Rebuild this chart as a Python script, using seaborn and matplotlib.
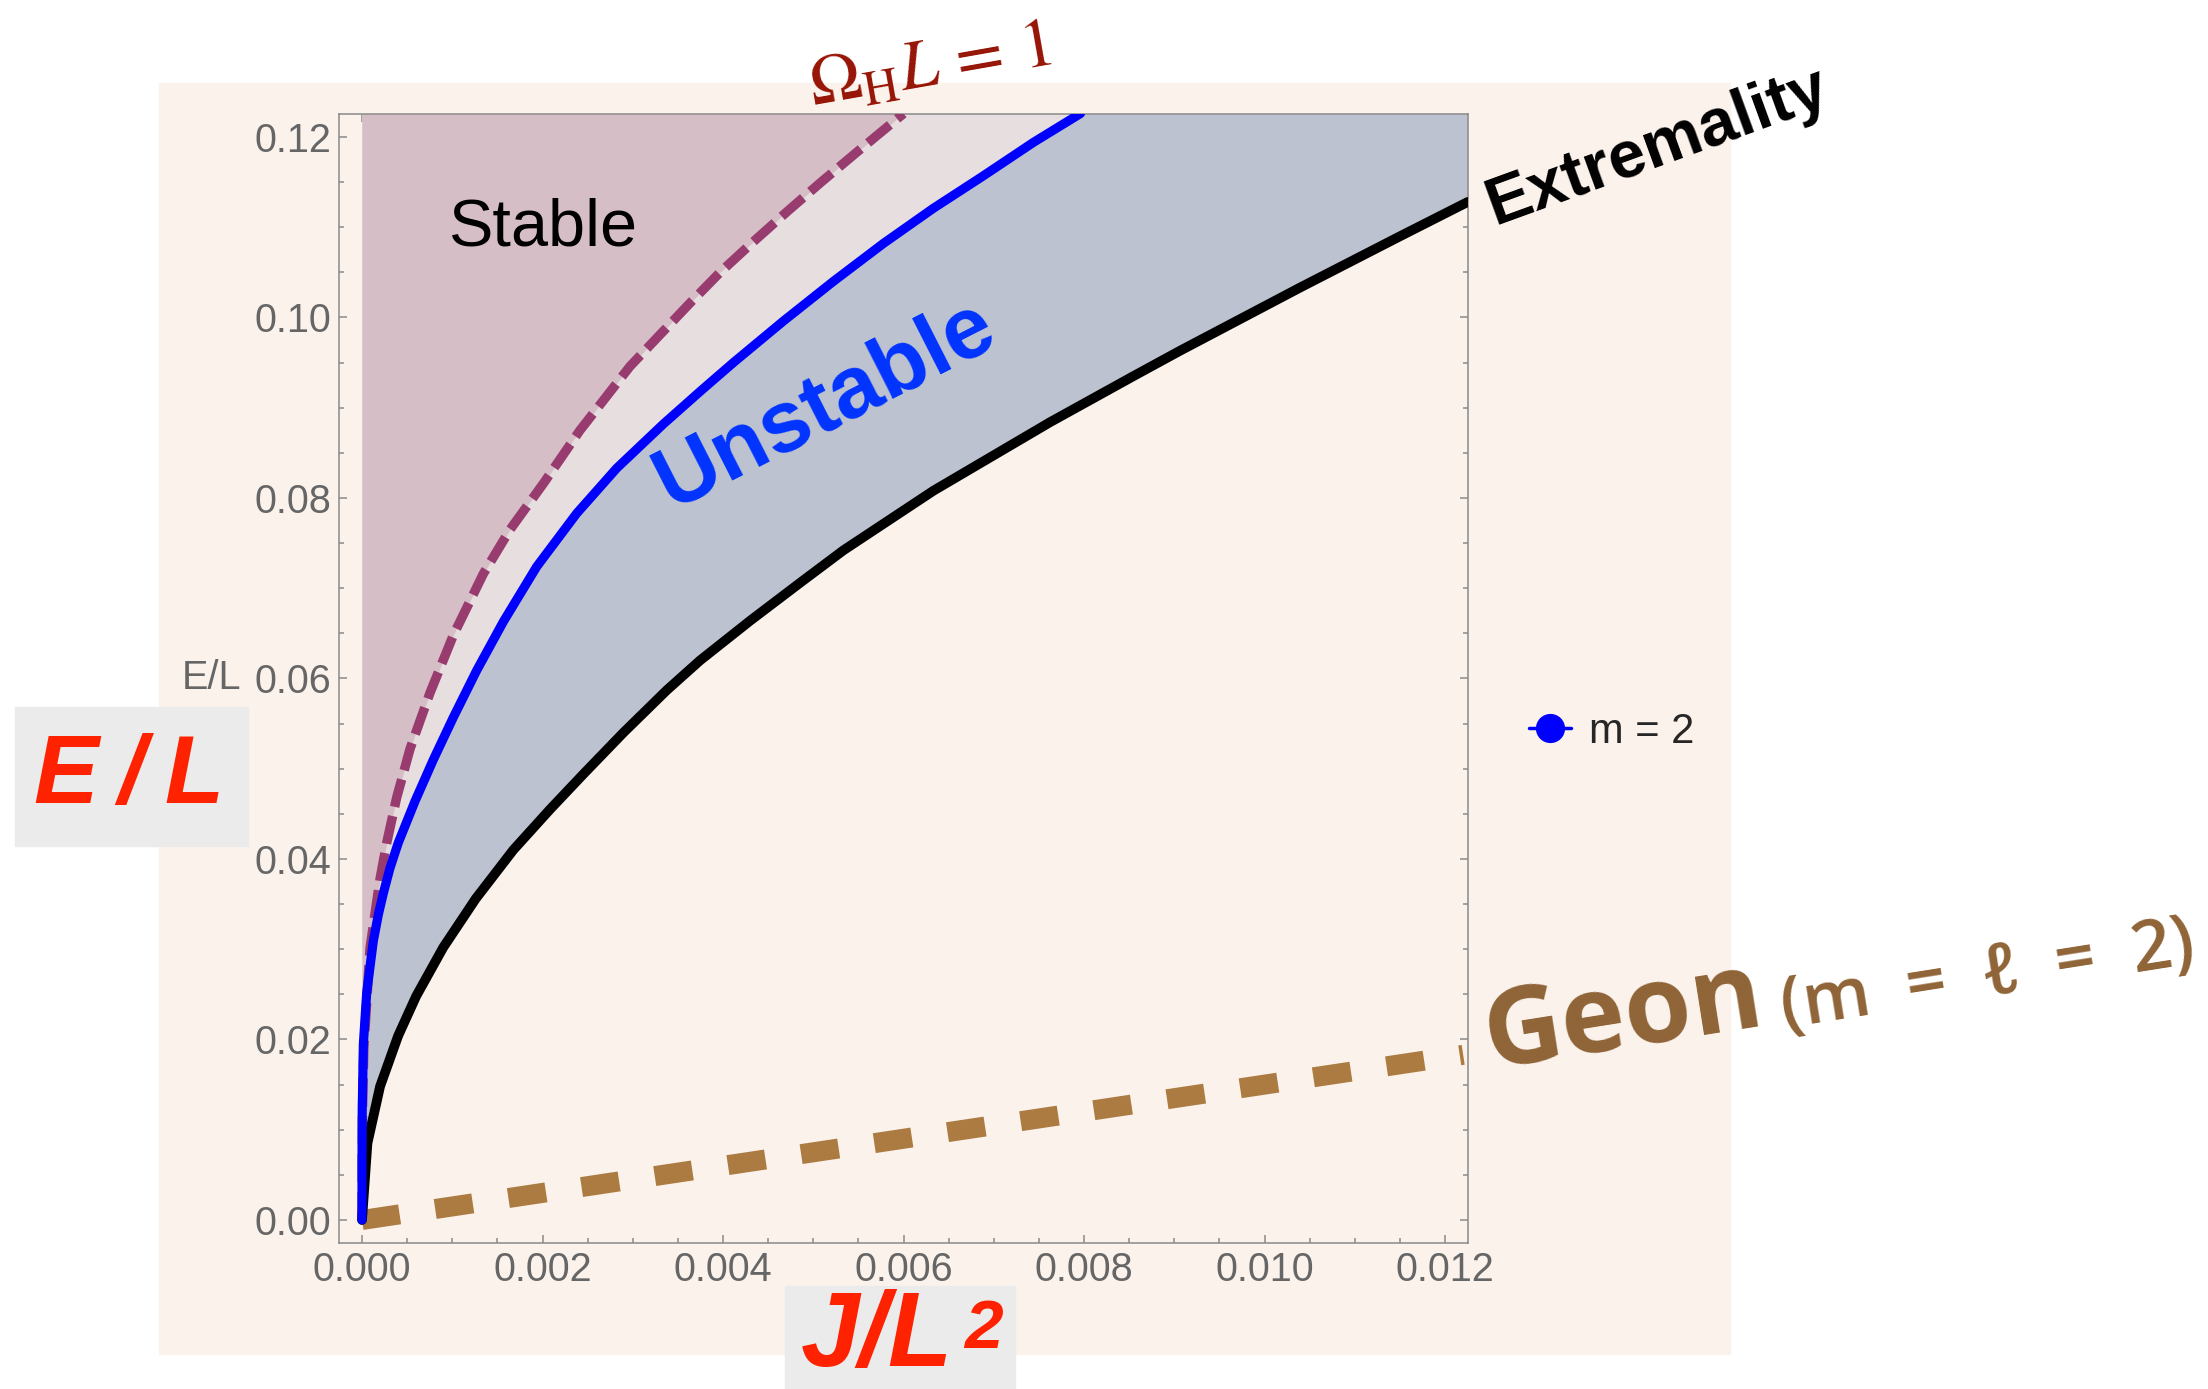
import matplotlib
matplotlib.use('Agg')
import matplotlib.pyplot as plt
import seaborn as sns
from matplotlib.lines import Line2D
from matplotlib.patches import Rectangle
from matplotlib.ticker import MultipleLocator, FormatStrFormatter

# curves: x = J/L^2, y = E/L
omega_j = [0.0, 0.000005, 0.00002, 0.0000886, 0.0002, 0.000274, 0.000384, 0.000532,
           0.000753, 0.001012, 0.001344, 0.00164, 0.002009, 0.002415, 0.00297,
           0.003634, 0.003967, 0.004336, 0.004706, 0.005075, 0.00548, 0.0060]
omega_e = [0.0, 0.012, 0.019, 0.0301, 0.0378, 0.0418, 0.0468, 0.0522,
           0.0584, 0.0648, 0.0716, 0.0765, 0.0816, 0.0875, 0.0946,
           0.1016, 0.1050, 0.1084, 0.1117, 0.1149, 0.1183, 0.1226]

m2_j = [0.0, 0.0, 0.000002, 0.000015, 0.000052, 0.000125, 0.00018, 0.000236,
        0.00031, 0.000402, 0.000587, 0.00079, 0.001012, 0.001271, 0.001566,
        0.001936, 0.002379, 0.002822, 0.003339, 0.003745, 0.004114, 0.004668,
        0.005222, 0.005776, 0.00633, 0.006884, 0.007438, 0.00796]
m2_e = [0.0, 0.006, 0.012, 0.0195, 0.0252, 0.0309, 0.0338, 0.0362,
        0.0390, 0.0418, 0.0464, 0.0510, 0.0557, 0.0609, 0.0663,
        0.0724, 0.0783, 0.0833, 0.0882, 0.0918, 0.0950, 0.0996,
        0.1040, 0.1082, 0.1121, 0.1157, 0.1194, 0.1226]

ext_j = [0.0, 0.00006, 0.0002, 0.0004, 0.0006, 0.0009, 0.00126, 0.001676,
         0.002083, 0.002452, 0.002896, 0.003376, 0.003745, 0.0043, 0.004853,
         0.005333, 0.00633, 0.007623, 0.008546, 0.00906, 0.01039, 0.0115, 0.01225]
ext_e = [0.0, 0.0085, 0.0148, 0.0204, 0.0248, 0.0302, 0.0356, 0.0410,
         0.0455, 0.0494, 0.0540, 0.0587, 0.0620, 0.0664, 0.0706,
         0.0742, 0.0808, 0.0884, 0.0935, 0.0963, 0.1033, 0.1090, 0.1128]

geon_j = [0.0, 0.0122]
geon_e = [0.0, 0.0183]

xticks = [0.000, 0.002, 0.004, 0.006, 0.008, 0.010, 0.012]
yticks = [0.00, 0.02, 0.04, 0.06, 0.08, 0.10, 0.12]

sns.set_style('ticks')
plt.rcParams['font.family'] = ['Liberation Sans', 'DejaVu Sans']
plt.rcParams['mathtext.fontset'] = 'stix'

W, H = 2208, 1389
def fx(px):
    return px / W
def fy(py):
    return 1 - py / H

peach = '#fbf2ec'
fig = plt.figure(figsize=(W / 100, H / 100), dpi=100)
fig.patch.set_facecolor('white')
fig.add_artist(Rectangle((fx(159), fy(1354)), (1730 - 159) / W, (1354 - 83) / H,
                         transform=fig.transFigure, color=peach, zorder=-2))

ax = fig.add_axes([fx(339), fy(1243), (1467.7 - 339) / W, (1243 - 113.8) / H])
ax.set_facecolor(peach)

top = 0.13
ax.fill_between(ext_j, ext_e, top, color='#bcc2cf', lw=0, zorder=1)
ax.fill_between(m2_j, m2_e, top, color='#e7dfdf', lw=0, zorder=1.1)
ax.fill_between(omega_j, omega_e, top, color='#d5bec6', lw=0, zorder=1.2)

sns.lineplot(x=geon_j, y=geon_e, sort=False, estimator=None, ax=ax,
             color='#ac7b41', lw=14.4, zorder=2.5)
ax.lines[-1].set_dashes([1.9, 1.8])
ax.lines[-1].set_dash_capstyle('butt')

sns.lineplot(x=omega_j, y=omega_e, sort=False, estimator=None, ax=ax,
             color='#983c70', lw=6.8, zorder=3)
ax.lines[-1].set_dashes([3.0, 1.0])
ax.lines[-1].set_dash_capstyle('butt')

sns.lineplot(x=ext_j, y=ext_e, sort=False, estimator=None, ax=ax,
             color='black', lw=7, zorder=3.2)
sns.lineplot(x=m2_j, y=m2_e, sort=False, estimator=None, ax=ax,
             color='#0000ff', lw=6.6, solid_capstyle='round', zorder=3.4)

ax.set_xlim(-0.000255, 0.01225)
ax.set_ylim(-0.00255, 0.12257)
ax.set_xticks(xticks)
ax.set_yticks(yticks)
ax.xaxis.set_major_formatter(FormatStrFormatter('%.3f'))
ax.yaxis.set_major_formatter(FormatStrFormatter('%.2f'))
ax.xaxis.set_minor_locator(MultipleLocator(0.0005))
ax.yaxis.set_minor_locator(MultipleLocator(0.005))
ax.tick_params(which='both', direction='in', top=True, right=True,
               color='#8a8a8a', labelcolor='#666666', labelsize=28.5, width=1.1)
ax.tick_params(which='major', length=5.8, pad=5.5)
ax.tick_params(which='minor', length=3.6)
for s in ax.spines.values():
    s.set_color('#8a8a8a')
    s.set_linewidth(1.1)
ax.set_xlabel('')
ax.set_ylabel('')

ax.text(0.0020, 0.1080, 'Stable', ha='center', va='baseline', fontsize=48,
        color='black', zorder=5)
ax.text(0.00514, 0.0903, 'Unstable', ha='center', va='center', rotation=27,
        rotation_mode='anchor', fontsize=63, weight='bold', color='#0033ff', zorder=5)

fig.text(fx(241), fy(678), 'E/L', ha='right', va='center', fontsize=28.5, color='#666666')

fig.text(fx(1495), fy(225), 'Extremality', ha='left', va='baseline', rotation=20,
         rotation_mode='anchor', fontsize=48, weight='bold', color='black')
fig.text(fx(813), fy(107), r'$\mathit{\Omega}_{\mathrm{H}}L\,=\,1$', ha='left', va='baseline',
         rotation=10, rotation_mode='anchor', fontsize=50, color='#961405')

fig.text(fx(1490), fy(1068), 'Geon', ha='left', va='baseline', rotation=9,
         rotation_mode='anchor', fontsize=78, weight='bold', color='#8f6437',
         family=['Open Sans', 'DejaVu Sans'])
fig.text(fx(1784), fy(1028), '(m  =  ℓ  =  2)', ha='left', va='baseline', rotation=9,
         rotation_mode='anchor', fontsize=51, weight='semibold', color='#8f6437',
         family=['Open Sans', 'DejaVu Sans'])

# axis labels in grey boxes
fig.add_artist(Rectangle((fx(15), fy(846)), (248 - 15) / W, (846 - 707) / H,
                         transform=fig.transFigure, color='#ebebeb', zorder=1))
fig.text(fx(129), fy(803), 'E\u2009/\u2009L', ha='center', va='baseline', fontsize=70,
         weight='bold', style='italic', color='#ff2200', zorder=2)
fig.add_artist(Rectangle((fx(785), fy(1389)), (1015 - 785) / W, (1389 - 1286) / H,
                         transform=fig.transFigure, color='#ebebeb', zorder=1))
fig.text(fx(801), fy(1388), 'J/L', ha='left', va='bottom', fontsize=76,
         weight='bold', style='italic', color='#ff2200', zorder=2)
fig.text(fx(964), fy(1298), '2', ha='left', va='top', fontsize=50,
         weight='bold', style='italic', color='#ff2200', zorder=2)

handle = Line2D([0], [0], color='#0000ff', lw=2.5, marker='o', ms=20)
ax.legend(handles=[handle], labels=['m = 2'], loc='center left',
          bbox_to_anchor=(fx(1529), fy(732)), bbox_transform=fig.transFigure,
          frameon=False, fontsize=30, handlelength=1.0, handletextpad=0.45,
          borderpad=0, borderaxespad=0)

fig.savefig('out.png', dpi=100, facecolor='white')
